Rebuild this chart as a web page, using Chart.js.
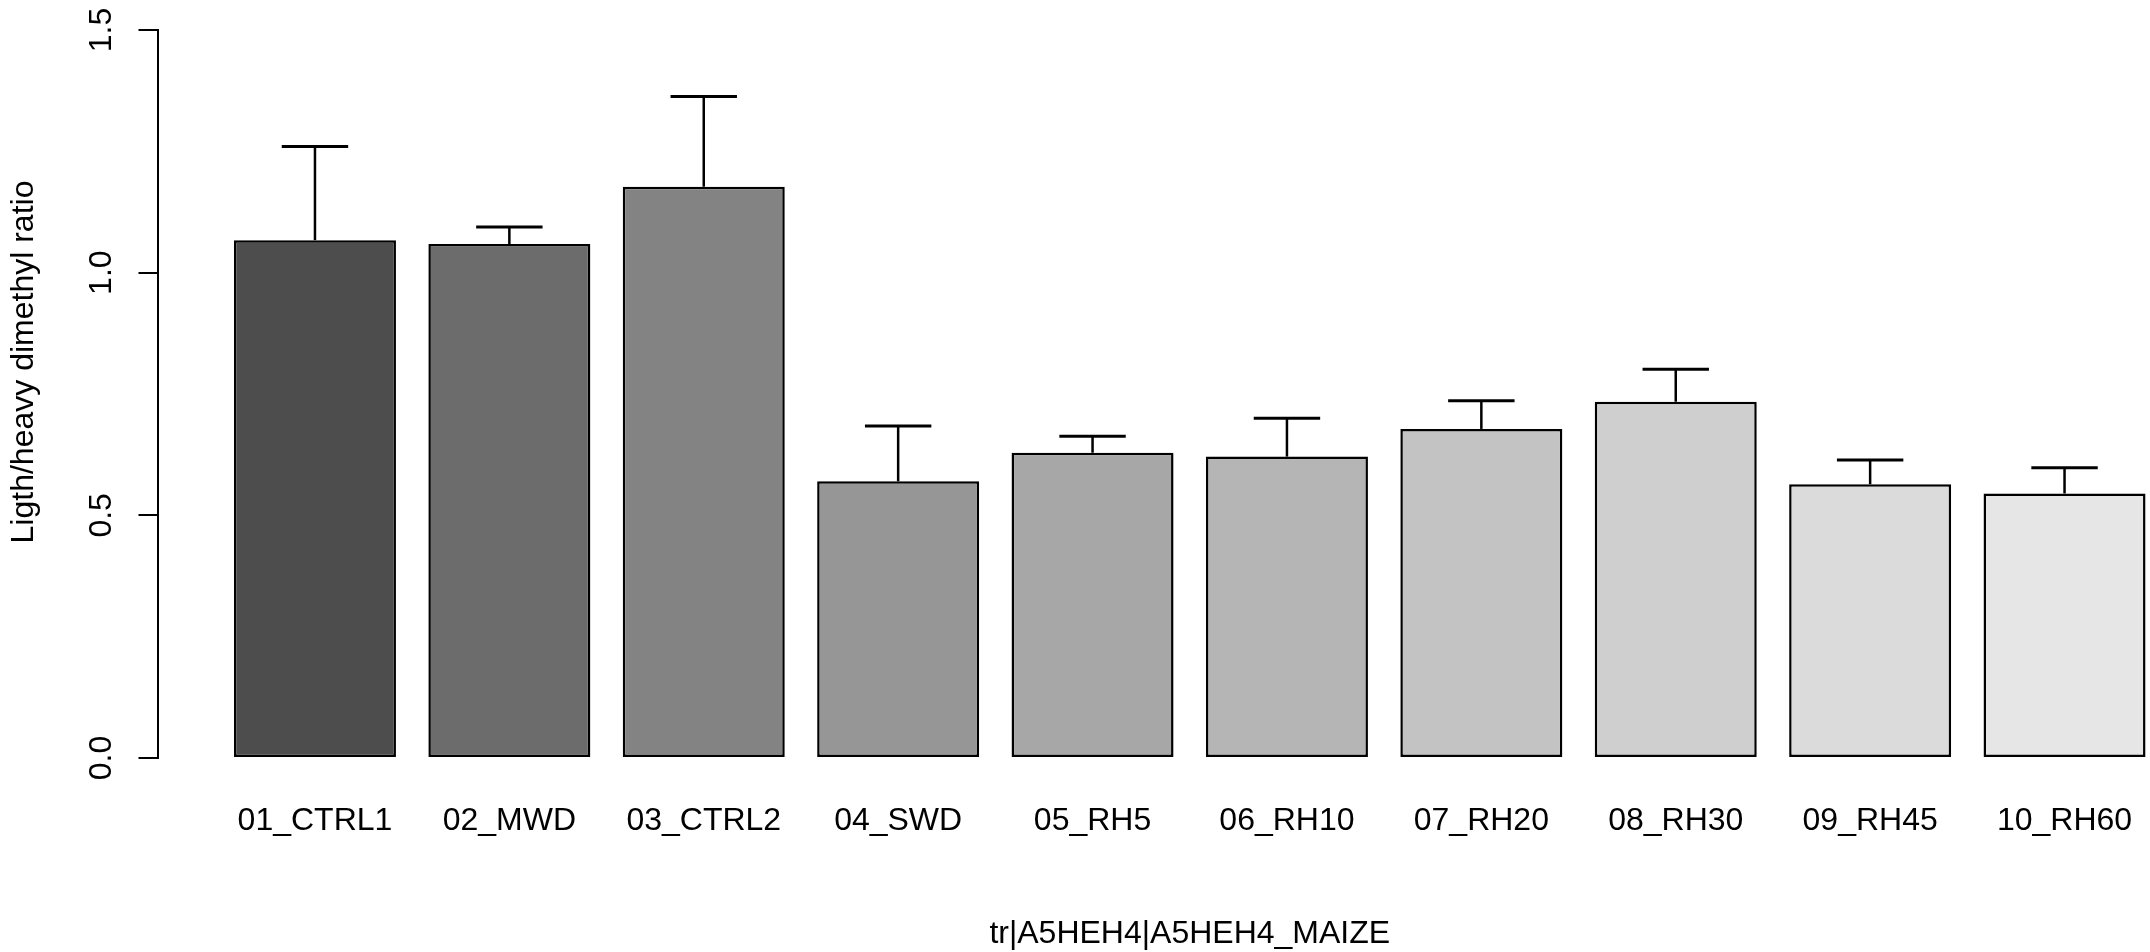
<!DOCTYPE html>
<html>
<head>
<meta charset="utf-8">
<script src="https://cdn.jsdelivr.net/npm/chart.js@4.4.0/dist/chart.umd.min.js"></script>
<style>
  html, body { margin: 0; padding: 0; background: #fff; overflow: hidden; width: 2150px; height: 952px; }
  #wrap { position: absolute; left: 0; top: 0; width: 2222px; height: 952px; }
</style>
</head>
<body>
<div id="wrap"><canvas id="c" width="2222" height="952"></canvas></div>
<script>
// ---- data ----
const categories = ["01_CTRL1","02_MWD","03_CTRL2","04_SWD","05_RH5","06_RH10","07_RH20","08_RH30","09_RH45","10_RH60"];
const meanRatio  = [1.067, 1.059, 1.177, 0.570, 0.629, 0.621, 0.678, 0.734, 0.564, 0.545];
const errorTop   = [1.260, 1.094, 1.363, 0.684, 0.663, 0.700, 0.736, 0.801, 0.614, 0.598];
const yTickValues = [0, 0.5, 1.0, 1.5];
const xTitle = "tr|A5HEH4|A5HEH4_MAIZE";
const yTitle = "Ligth/heavy dimethyl ratio";

// ---- styles ----
const barColors = ["#4D4D4D","#6C6C6C","#838383","#969696","#A7A7A7","#B5B5B5","#C3C3C3","#CFCFCF","#DBDBDB","#E6E6E6"];
const FONT = '"Liberation Sans", Arial, Helvetica, sans-serif';
const FS = 32;

// R barplot layout: width 1, space 0.2
const barCenter = i => 0.7 + 1.2 * i;
const nBars = categories.length;
const xLo = 0.2, xHi = 0.2 + 1.2 * nBars - 0.2;
const ext = (xHi - xLo) * 0.04;

const annotate = {
  id: 'annotate',
  afterDatasetsDraw(chart) {
    const ctx = chart.ctx;
    const xs = chart.scales.x, ys = chart.scales.y;
    ctx.save();
    ctx.strokeStyle = '#000';
    ctx.lineCap = 'butt';
    const capHalf = 0.205 * (xs.getPixelForValue(1) - xs.getPixelForValue(0));
    for (let i = 0; i < nBars; i++) {
      const x = xs.getPixelForValue(barCenter(i));
      const y0 = ys.getPixelForValue(meanRatio[i]);
      const y1 = ys.getPixelForValue(errorTop[i]);
      ctx.lineWidth = 2.5;
      ctx.beginPath(); ctx.moveTo(x, y0); ctx.lineTo(x, y1); ctx.stroke();
      ctx.lineWidth = 3;
      ctx.beginPath(); ctx.moveTo(x - capHalf, y1); ctx.lineTo(x + capHalf, y1); ctx.stroke();
    }
    ctx.restore();
  },
  afterDraw(chart) {
    const ctx = chart.ctx;
    const ys = chart.scales.y;
    ctx.save();
    ctx.fillStyle = '#000';
    ctx.font = FS + 'px ' + FONT;
    // y tick labels (rotated, as in R)
    ys.ticks.forEach(t => {
      const y = ys.getPixelForValue(t.value);
      ctx.save();
      ctx.translate(111, y);
      ctx.rotate(-Math.PI / 2);
      ctx.textAlign = 'center';
      ctx.textBaseline = 'alphabetic';
      ctx.fillText(t.value.toFixed(1), 0, 0);
      ctx.restore();
    });
    // y title
    ctx.save();
    ctx.translate(33, 362);
    ctx.rotate(-Math.PI / 2);
    ctx.textAlign = 'center';
    ctx.textBaseline = 'alphabetic';
    ctx.fillText(yTitle, 0, 0);
    ctx.restore();
    // x title
    ctx.textAlign = 'center';
    ctx.textBaseline = 'alphabetic';
    ctx.fillText(xTitle, (chart.chartArea.left + chart.chartArea.right) / 2, 943);
    ctx.restore();
  }
};

new Chart(document.getElementById('c'), {
  type: 'bar',
  data: {
    datasets: [{
      data: categories.map((c, i) => ({ x: barCenter(i), y: meanRatio[i] })),
      backgroundColor: barColors,
      borderColor: '#000',
      borderWidth: 2.5,
      borderSkipped: false,
      barPercentage: 1 / 1.2,
      categoryPercentage: 1
    }]
  },
  options: {
    responsive: false,
    animation: false,
    layout: { padding: { top: 30, right: 0, bottom: 0, left: 0 } },
    plugins: { legend: { display: false }, tooltip: { enabled: false } },
    scales: {
      x: {
        type: 'linear',
        offset: false,
        min: xLo - ext,
        max: xHi + ext,
        grid: { display: false, offset: false },
        border: { display: false },
        afterBuildTicks: s => { s.ticks = categories.map((c, i) => ({ value: barCenter(i) })); },
        afterFit: s => { s.height = 194; },
        ticks: {
          autoSkip: false, maxRotation: 0, minRotation: 0,
          color: '#000', padding: 36,
          font: { family: FONT, size: FS },
          callback: (v, idx) => categories[idx]
        }
      },
      y: {
        min: 0, max: 1.5,
        afterBuildTicks: s => { s.ticks = yTickValues.map(v => ({ value: v })); },
        afterFit: s => { s.width = 157.5; },
        grid: { drawOnChartArea: false, drawTicks: true, tickLength: 19, color: '#000', lineWidth: 2 },
        border: { display: true, color: '#000', width: 2 },
        ticks: { display: false }
      }
    }
  },
  plugins: [annotate]
});
</script>
</body>
</html>
